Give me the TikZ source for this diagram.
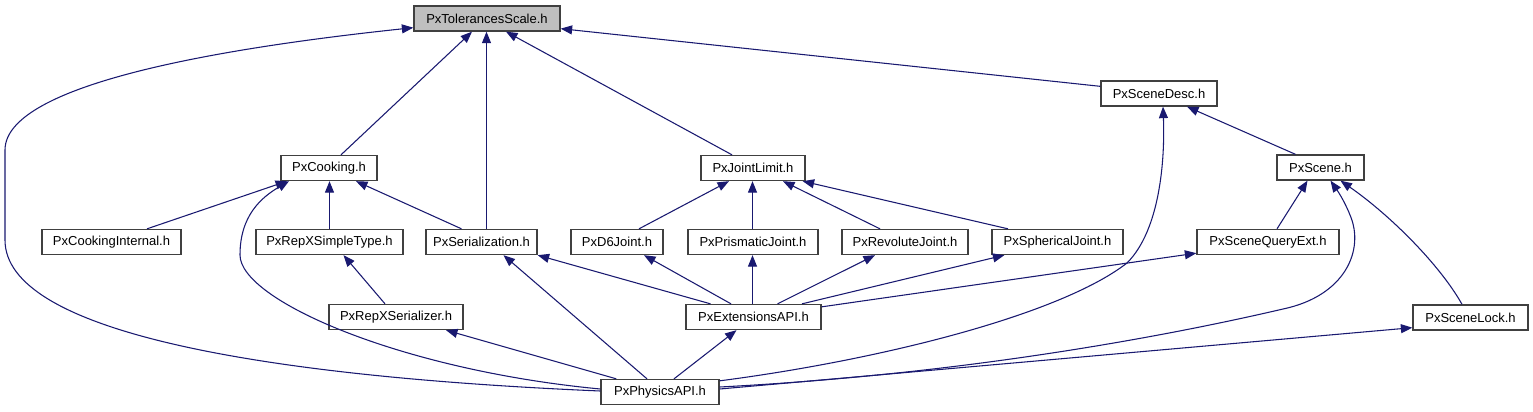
\documentclass[tikz,border=0pt]{standalone}
\usepackage{fontspec}
\setmainfont{Liberation Sans}
\usetikzlibrary{arrows.meta,calc}
\definecolor{edgeblue}{HTML}{191970}
\definecolor{boxgray}{HTML}{BFBFBF}
\definecolor{boxline}{HTML}{404040}
\begin{document}
\begin{tikzpicture}[x=0.75pt,y=-0.75pt,
  file/.style={draw=boxline, line width=1pt, fill=white, inner sep=0pt,
    minimum height=18.75pt, font=\fontsize{9.75pt}{11pt}\selectfont},
  bw/.style={minimum width=#1*0.75pt},
  dep/.style={draw=edgeblue, line width=0.8pt, -{Triangle[length=8.6pt,width=6.75pt]}}]
\useasboundingbox (0,0) rectangle (1533,411);
% nodes
\node[file,bw=146,fill=boxgray] (tol) at (487,18.5) {PxTolerancesScale.h};
\node[file,bw=116] (desc) at (1159,93.5) {PxSceneDesc.h};
\node[file,bw=87] (scene) at (1320.5,167.5) {PxScene.h};
\node[file,bw=96] (cook) at (329,168) {PxCooking.h};
\node[file,bw=104] (jl) at (753,168) {PxJointLimit.h};
\node[file,bw=139] (ci) at (111.5,242) {PxCookingInternal.h};
\node[file,bw=147] (rst) at (329.5,242) {PxRepXSimpleType.h};
\node[file,bw=111] (ser) at (481.5,242) {PxSerialization.h};
\node[file,bw=92] (d6) at (617,242) {PxD6Joint.h};
\node[file,bw=130] (pj) at (753,242) {PxPrismaticJoint.h};
\node[file,bw=126] (rj) at (905,242) {PxRevoluteJoint.h};
\node[file,bw=131] (sj) at (1057.5,242) {PxSphericalJoint.h};
\node[file,bw=142] (sqe) at (1268,242) {PxSceneQueryExt.h};
\node[file,bw=134] (rxs) at (396,317) {PxRepXSerializer.h};
\node[file,bw=135] (ext) at (753.5,317) {PxExtensionsAPI.h};
\node[file,bw=115] (lock) at (1470.5,317.5) {PxSceneLock.h};
\node[file,bw=118] (phys) at (660,392) {PxPhysicsAPI.h};
% edges into PxTolerancesScale.h
\draw[dep] ($(phys.west)+(0,-1)$) .. controls (250,376) and (5,330) .. (5,240)
  -- (5,150) .. controls (5,80) and (250,45) .. ($(tol.south west)+(0,-4)$);
\draw[dep] ($(cook.north)+(12,0)$) -- ($(tol.south)+(-15,0)$);
\draw[dep] ($(ser.north)+(5,0)$) -- ($(tol.south)+(-0.5,0)$);
\draw[dep] ($(jl.north)+(-21,0)$) -- ($(tol.south)+(19,0)$);
\draw[dep] ($(desc.north west)+(0,6)$) -- ($(tol.south east)+(0,-3)$);
% edges into PxCooking.h
\draw[dep] ($(ci.north)+(35.5,0)$) -- ($(cook.south)+(-42,0)$);
\draw[dep] (rst.north) -- ($(cook.south)+(0.5,0)$);
\draw[dep] ($(ser.north)+(-20,0)$) -- ($(cook.south)+(27,0)$);
\draw[dep] ($(phys.west)+(0,-3)$) .. controls (400,370) and (240,300) .. (240,255)
  .. controls (240,215) and (262,197) .. ($(cook.south)+(-40,0)$);
% RepX
\draw[dep] ($(rxs.north)+(-11,0)$) -- ($(rst.south)+(14,0)$);
\draw[dep] ($(phys.north west)+(16,0)$) -- ($(rxs.south)+(50,0)$);
% Serialization
\draw[dep] ($(phys.north)+(-13,0)$) -- ($(ser.south)+(22,0)$);
\draw[dep] ($(ext.north)+(-43,0)$) -- (ser.south east);
% joints into PxJointLimit.h
\draw[dep] ($(d6.north)+(22,0)$) -- ($(jl.south)+(-24,0)$);
\draw[dep] ($(pj.north)+(-0.5,0)$) -- ($(jl.south)+(-0.5,0)$);
\draw[dep] ($(rj.north)+(-25,0)$) -- ($(jl.south)+(30,0)$);
\draw[dep] ($(sj.north)+(-49.5,0)$) -- ($(jl.south east)+(-3,0)$);
% PxExtensionsAPI.h
\draw[dep] ($(ext.north)+(-22.5,0)$) -- ($(d6.south)+(27,0)$);
\draw[dep] ($(ext.north)+(-1,0)$) -- ($(pj.south)+(-0.5,0)$);
\draw[dep] ($(ext.north)+(24,0)$) -- ($(rj.south)+(-30,0)$);
\draw[dep] ($(ext.north)+(48.5,0)$) -- ($(sj.south west)+(13,0)$);
\draw[dep] ($(ext.north east)+(0,3)$) -- ($(sqe.south west)+(0,-2)$);
\draw[dep] ($(phys.north)+(14,0)$) -- ($(ext.south)+(-17,0)$);
% scene side
\draw[dep] ($(phys.north east)+(0,2)$) .. controls (880,360) and (1060,315) .. (1127,263)
  .. controls (1160,230) and (1165,160) .. ($(desc.south)+(4,0)$);
\draw[dep] ($(scene.north)+(-25,0)$) -- ($(desc.south)+(28,0)$);
\draw[dep] ($(sqe.north)+(9,0)$) -- ($(scene.south)+(-13,0)$);
\draw[dep] ($(phys.east)+(0,-5)$) .. controls (950,375) and (1150,340) .. (1283,309)
  .. controls (1345,296) and (1365,250) .. (1350,215)
  .. controls (1344,200) and (1337,190) .. ($(scene.south)+(10,0)$);
\draw[dep] ($(lock.north)+(-8.5,0)$) .. controls (1440,265) and (1390,215) .. ($(scene.south)+(20,0)$);
\draw[dep] ($(phys.east)+(0,-3)$) -- ($(lock.south west)+(0,-3)$);
\end{tikzpicture}
\end{document}
